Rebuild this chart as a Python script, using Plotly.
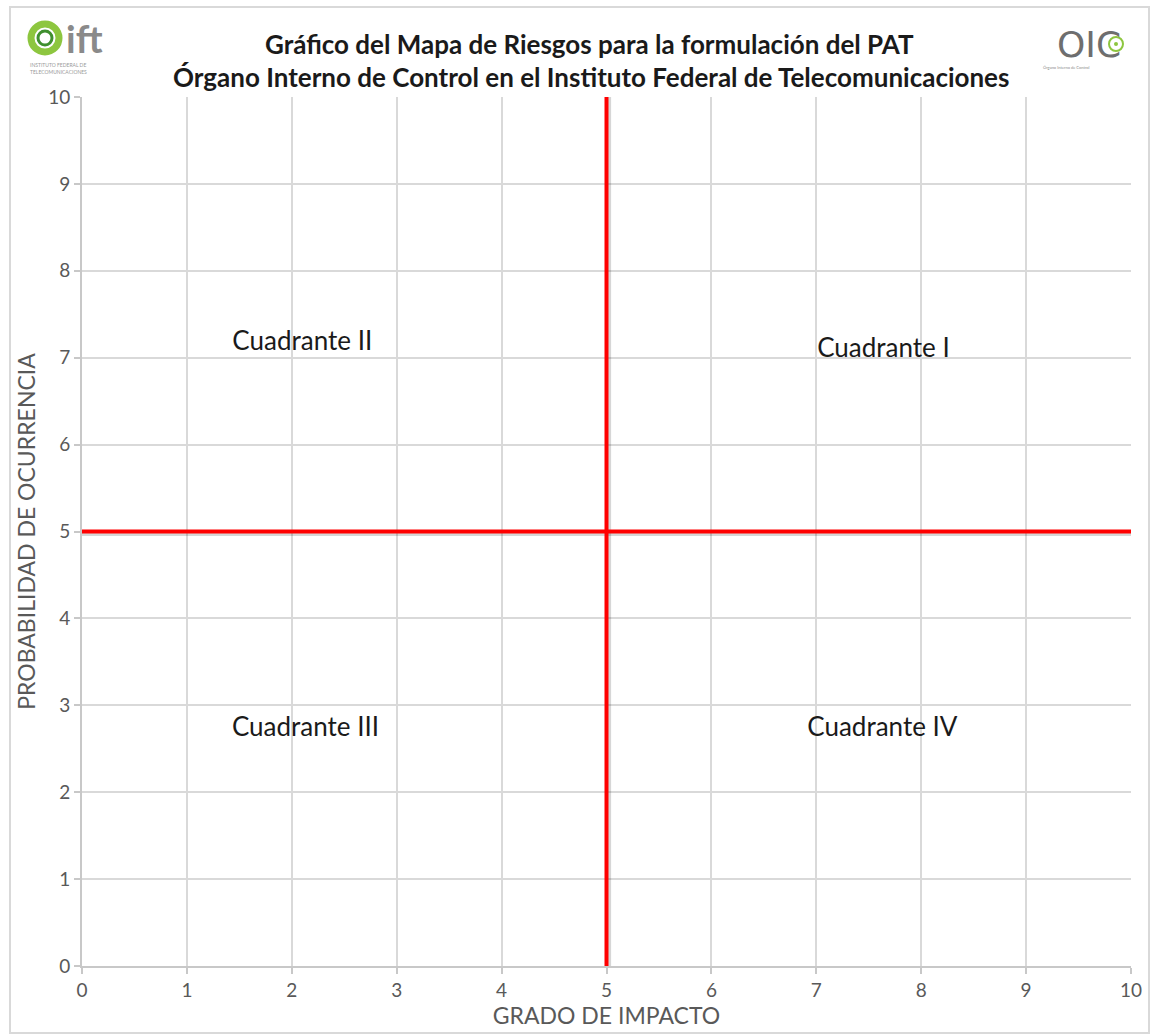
import plotly.graph_objects as go

# ---- data ----
axis_min = 0
axis_max = 10
tick_values = [0, 1, 2, 3, 4, 5, 6, 7, 8, 9, 10]
tick_labels = ["0", "1", "2", "3", "4", "5", "6", "7", "8", "9", "10"]
impact_threshold = 5          # vertical red line (GRADO DE IMPACTO)
probability_threshold = 5     # horizontal red line (PROBABILIDAD DE OCURRENCIA)
horizontal_line_end = 10.05
quadrant_names = ["Cuadrante I", "Cuadrante II", "Cuadrante III", "Cuadrante IV"]
quadrant_x = [7.64, 2.10, 2.13, 7.63]
quadrant_y = [7.08, 7.16, 2.72, 2.72]

title_line1 = "Gráfico del Mapa de Riesgos para la formulación del PAT"
title_line2 = "Órgano Interno de Control en el Instituto Federal de Telecomunicaciones"
x_title = "GRADO DE IMPACTO"
y_title = "PROBABILIDAD DE OCURRENCIA"

FONT = "Lato"
W, H = 1151, 1034
ML, MR, MT, MB = 82, 20, 97, 68
PW, PH = W - ML - MR, H - MT - MB


def px_x(p):
    return (p - ML) / PW


def px_y(p):
    return 1 - (p - MT) / PH


fig = go.Figure()

# shadows for the red lines
fig.add_trace(go.Scatter(
    x=[axis_min, horizontal_line_end], y=[probability_threshold - 0.03] * 2,
    mode="lines", line=dict(color="rgba(0,0,0,0.16)", width=4),
    hoverinfo="skip", showlegend=False, cliponaxis=False))
fig.add_trace(go.Scatter(
    x=[impact_threshold + 0.025] * 2, y=[axis_min, axis_max],
    mode="lines", line=dict(color="rgba(0,0,0,0.16)", width=4),
    hoverinfo="skip", showlegend=False))

# red threshold lines
fig.add_trace(go.Scatter(
    x=[axis_min, horizontal_line_end], y=[probability_threshold] * 2,
    mode="lines", line=dict(color="#ff0000", width=4),
    showlegend=False, cliponaxis=False))
fig.add_trace(go.Scatter(
    x=[impact_threshold] * 2, y=[axis_min, axis_max],
    mode="lines", line=dict(color="#ff0000", width=4),
    showlegend=False, cliponaxis=False))

# quadrant labels
fig.add_trace(go.Scatter(
    x=quadrant_x, y=quadrant_y, mode="text", text=quadrant_names,
    textfont=dict(family=FONT, size=26, color="#1a1a1a"),
    showlegend=False, hoverinfo="skip"))

axis_common = dict(
    range=[axis_min, axis_max], tickmode="array",
    tickvals=tick_values, ticktext=tick_labels,
    showgrid=True, gridcolor="#d9d9d9", gridwidth=2,
    showline=True, linecolor="#c8c8c8", linewidth=2,
    ticks="outside", ticklen=6, tickcolor="#c8c8c8", tickwidth=2,
    tickfont=dict(family=FONT, size=19, color="#595959"),
    zeroline=False, fixedrange=True, automargin=False,
)

fig.update_xaxes(**axis_common,
                 title=dict(text=x_title, standoff=2,
                            font=dict(family=FONT, size=23, color="#595959")))
fig.update_yaxes(**axis_common,
                 title=dict(text=y_title, standoff=6,
                            font=dict(family=FONT, size=23, color="#595959")))

annotations = [
    dict(text="<b>" + title_line1 + "</b>", x=px_x(589), y=px_y(44),
         xref="paper", yref="paper", showarrow=False, yanchor="middle",
         font=dict(family=FONT, size=26, color="#1a1a1a")),
    dict(text="<b>" + title_line2 + "</b>", x=px_x(591), y=px_y(77),
         xref="paper", yref="paper", showarrow=False, yanchor="middle",
         font=dict(family=FONT, size=26, color="#1a1a1a")),
    # ift logo text
    dict(text="<b>ift</b>", x=px_x(64), y=px_y(38), xanchor="left", yanchor="middle",
         xref="paper", yref="paper", showarrow=False,
         font=dict(family=FONT, size=38, color="#8a8a8a")),
    dict(text="INSTITUTO FEDERAL DE<br>TELECOMUNICACIONES", x=px_x(28), y=px_y(69),
         xanchor="left", yanchor="middle", xref="paper", yref="paper",
         showarrow=False, align="left",
         font=dict(family=FONT, size=5, color="#9a9a9a")),
    # OIC logo text
    dict(text="OIC", x=px_x(1055), y=px_y(44), xanchor="left", yanchor="middle",
         xref="paper", yref="paper", showarrow=False,
         font=dict(family="DejaVu Sans", size=36, color="#6e6e6e")),
    dict(text="Órgano Interno de Control", x=px_x(1092), y=px_y(67),
         yanchor="middle", xref="paper", yref="paper", showarrow=False,
         font=dict(family=FONT, size=4, color="#8a8a8a")),
]

shapes = [
    # outer border
    dict(type="rect", xref="paper", yref="paper",
         x0=px_x(10), x1=px_x(1149), y0=px_y(1033), y1=px_y(7),
         line=dict(color="#d9d9d9", width=2), layer="below"),
    # ift swirl
    dict(type="circle", xref="paper", yref="paper",
         x0=px_x(31), x1=px_x(59), y0=px_y(52), y1=px_y(24),
         line=dict(color="#8dc63f", width=7)),
    dict(type="circle", xref="paper", yref="paper",
         x0=px_x(38), x1=px_x(52), y0=px_y(45), y1=px_y(31),
         line=dict(color="#3f8f2f", width=3)),
    # OIC green inner mark
    dict(type="circle", xref="paper", yref="paper",
         x0=px_x(1109), x1=px_x(1123), y0=px_y(51), y1=px_y(37),
         line=dict(color="#8dc63f", width=2)),
    dict(type="circle", xref="paper", yref="paper",
         x0=px_x(1114), x1=px_x(1118), y0=px_y(46), y1=px_y(42),
         fillcolor="#8dc63f", line=dict(width=0)),
]

fig.update_layout(
    width=W, height=H,
    margin=dict(l=ML, r=MR, t=MT, b=MB, autoexpand=False),
    plot_bgcolor="white", paper_bgcolor="white",
    annotations=annotations, shapes=shapes,
    showlegend=False,
)

fig.write_html("out.html", config={"displayModeBar": False},
               post_script="document.body.style.margin='0';document.body.style.overflow='hidden';")
